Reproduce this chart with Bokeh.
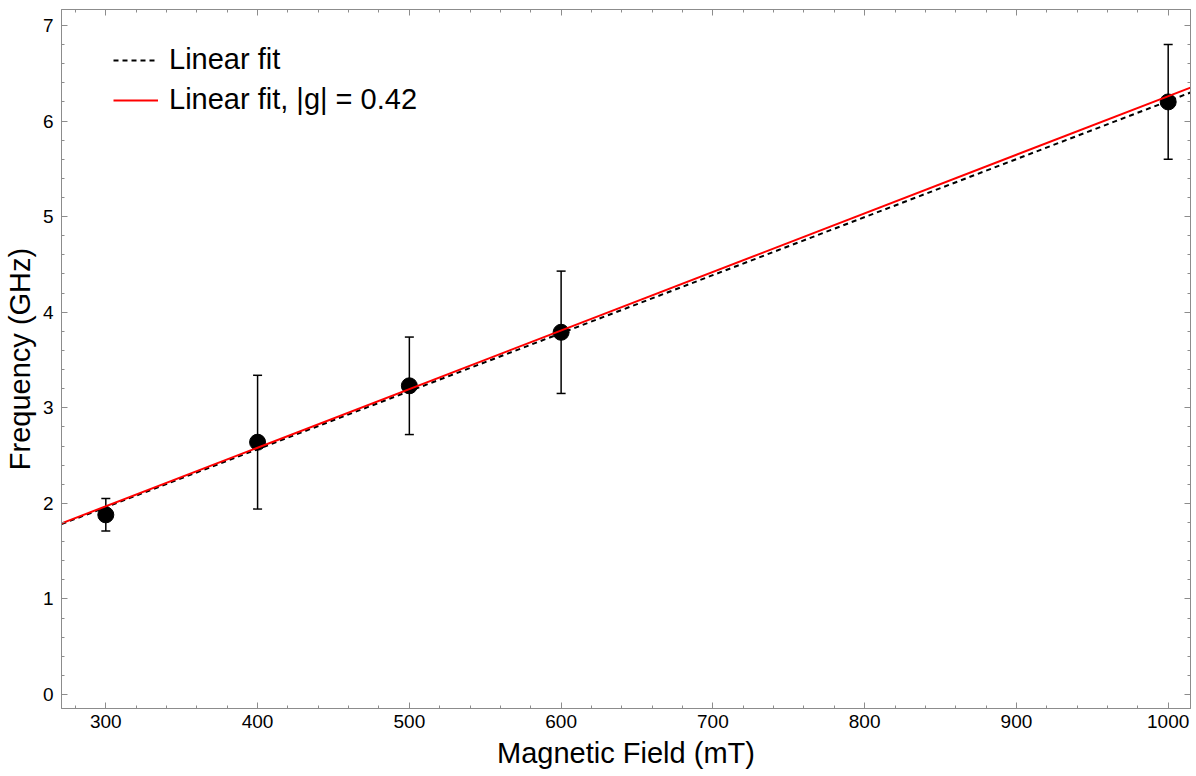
from bokeh.plotting import figure
from bokeh.models import (Range1d, SingleIntervalTicker, LinearAxis, Whisker, TeeHead,
                          ColumnDataSource, Legend, LegendItem, CustomJSTickFormatter)
from bokeh.embed import file_html
from bokeh.resources import INLINE

# ---- data ----
field_mT = [300, 400, 500, 600, 1000]
freq_GHz = [1.88, 2.64, 3.23, 3.79, 6.20]
freq_err = [0.17, 0.70, 0.51, 0.64, 0.60]

fit_slope = 0.00607      # GHz / mT  (black dashed "Linear fit")
fit_intercept = 0.139
g_slope = 0.006129       # GHz / mT  (red "Linear fit, |g| = 0.42")
g_intercept = 0.131

x_min, x_max = 270.8, 1014.7
y_min, y_max = -0.146, 7.167

FONT = "Liberation Sans"
GRAY = "#8c8c8c"

p = figure(frame_width=1129, frame_height=699,
           x_range=Range1d(x_min, x_max), y_range=Range1d(y_min, y_max),
           output_backend="svg", toolbar_location=None,
           x_axis_label="Magnetic Field (mT)", y_axis_label="Frequency (GHz)",
           min_border_left=61, min_border_right=2, min_border_top=9, min_border_bottom=10)
p.xgrid.visible = False
p.ygrid.visible = False
p.outline_line_color = GRAY
p.outline_line_width = 1
p.background_fill_color = "white"
p.border_fill_color = "white"

p.xaxis.ticker = SingleIntervalTicker(interval=100, num_minor_ticks=5)
p.yaxis.ticker = SingleIntervalTicker(interval=1, num_minor_ticks=5)

for ax in (p.xaxis[0], p.yaxis[0]):
    ax.axis_line_color = GRAY
    ax.major_tick_line_color = GRAY
    ax.minor_tick_line_color = GRAY
    ax.major_tick_in = 6
    ax.major_tick_out = 0
    ax.minor_tick_in = 3
    ax.minor_tick_out = 0
    ax.major_label_text_font = FONT
    ax.major_label_text_font_size = "19px"
    ax.major_label_text_color = "black"
    ax.axis_label_text_font = FONT
    ax.axis_label_text_font_size = "29px"
    ax.axis_label_text_font_style = "normal"
    ax.axis_label_text_color = "black"
p.xaxis.major_label_standoff = 6
p.xaxis.axis_label_standoff = 6
p.yaxis.major_label_standoff = 8
p.yaxis.axis_label_standoff = 4

# frame ticks on top and right (no labels)
blank = CustomJSTickFormatter(code="return ''")
for side, tick in (("above", SingleIntervalTicker(interval=100, num_minor_ticks=5)),
                   ("right", SingleIntervalTicker(interval=1, num_minor_ticks=5))):
    ax = LinearAxis(ticker=tick, formatter=blank, axis_line_color=GRAY,
                    major_tick_line_color=GRAY, minor_tick_line_color=GRAY,
                    major_tick_in=6, major_tick_out=0, minor_tick_in=3, minor_tick_out=0,
                    major_label_standoff=0)
    p.add_layout(ax, side)

# ---- data points with error bars ----
src = ColumnDataSource(dict(
    x=field_mT, y=freq_GHz,
    upper=[v + e for v, e in zip(freq_GHz, freq_err)],
    lower=[v - e for v, e in zip(freq_GHz, freq_err)],
))
wh = Whisker(source=src, base="x", upper="upper", lower="lower",
             line_color="black", line_width=1.5, level="underlay",
             upper_head=TeeHead(size=9, line_color="black", line_width=1.5),
             lower_head=TeeHead(size=9, line_color="black", line_width=1.5))
p.add_layout(wh)
p.scatter("x", "y", source=src, size=16, color="black")

# ---- fit lines ----
fit_x = [x_min, x_max]
r_fit = p.line(fit_x, [fit_intercept + fit_slope * x for x in fit_x],
               line_color="black", line_width=2, line_dash="5 4")
r_g = p.line(fit_x, [g_intercept + g_slope * x for x in fit_x],
             line_color="#ff0000", line_width=2)

legend = Legend(items=[LegendItem(label="Linear fit", renderers=[r_fit]),
                       LegendItem(label="Linear fit, |g| = 0.42", renderers=[r_g])],
                location=(52, 592), padding=0, margin=0, spacing=7,
                glyph_width=45, glyph_height=32, label_height=32, label_standoff=11,
                label_text_font=FONT, label_text_font_size="29px",
                label_text_color="black",
                border_line_alpha=0, background_fill_alpha=0)
p.add_layout(legend)

open("out.html", "w").write(file_html(p, INLINE))
